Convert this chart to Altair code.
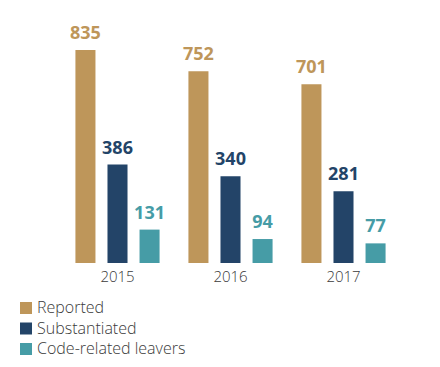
import altair as alt
import pandas as pd

years = ["2015", "2016", "2017"]
series = ["Reported", "Substantiated", "Code-related leavers"]
reported = [835, 752, 701]
substantiated = [386, 340, 281]
leavers = [131, 94, 77]
colors = ["#BE965A", "#234468", "#469CA6"]

rows = []
for i, y in enumerate(years):
    for s, vals in zip(series, [reported, substantiated, leavers]):
        rows.append({"year": y, "series": s, "value": vals[i]})
df = pd.DataFrame(rows)

color_scale = alt.Scale(domain=series, range=colors)

x = alt.X("year:N", sort=years, title=None,
          scale=alt.Scale(paddingInner=0, paddingOuter=0),
          axis=alt.Axis(labelAngle=0, domain=False, ticks=False, labelFontSize=15,
                        labelFont="Open Sans", labelColor="#3a3a3a", labelFontWeight=300,
                        labelPadding=6))
xoff = alt.XOffset("series:N", sort=series,
                   scale=alt.Scale(paddingInner=0.375, paddingOuter=0.45))
y = alt.Y("value:Q", title=None, axis=None, scale=alt.Scale(domain=[0, 953], nice=False))

bars = alt.Chart(df).mark_bar().encode(
    x=x, xOffset=xoff, y=y,
    color=alt.Color("series:N", sort=series, scale=color_scale,
                    legend=alt.Legend(title=None, orient="none", legendX=-43, legendY=280,
                                      symbolType="square", symbolSize=144,
                                      symbolStrokeWidth=0, symbolOpacity=1,
                                      labelFontSize=16, labelFont="Open Sans",
                                      labelColor="#3a3a3a", labelFontWeight=300,
                                      rowPadding=4.5, padding=0, symbolOffset=0,
                                      labelOffset=3)),
)

labels = alt.Chart(df).mark_text(baseline="bottom", dy=-7, fontSize=18,
                                 font="Open Sans", fontWeight="bold").encode(
    x=x, xOffset=xoff, y=y,
    text=alt.Text("value:Q"),
    color=alt.Color("series:N", sort=series, scale=color_scale, legend=None),
)

chart = (bars + labels).properties(
    width=339, height=243,
    autosize=alt.AutoSizeParams(type="none"),
    padding={"left": 53, "top": 12, "right": 32, "bottom": 96},
).configure_view(stroke=None)

chart.save("out.html", embed_options={"renderer": "svg", "actions": False})
